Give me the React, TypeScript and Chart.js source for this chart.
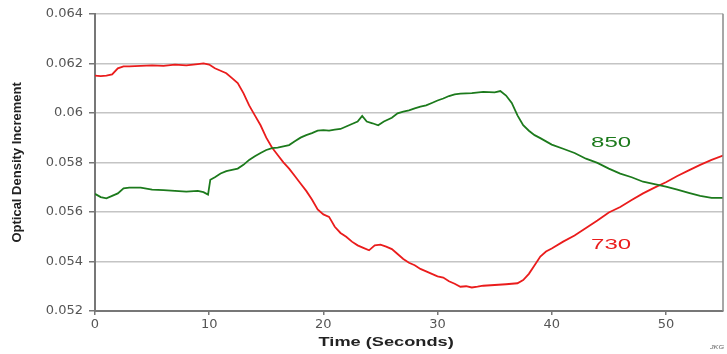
import React, { useEffect, useRef } from "react";
import { Chart, registerables } from "chart.js";

Chart.register(...registerables);

const redTimes = [0, 0.5, 1, 1.5, 2, 2.5, 3, 4, 5, 6, 7, 8, 9, 9.5, 10, 10.5, 11, 11.5, 12, 12.5, 13, 13.5, 14, 14.5, 15, 15.5, 16, 16.5, 17, 17.5, 18, 18.5, 19, 19.5, 20, 20.5, 21, 21.5, 22, 22.5, 23, 23.5, 24, 24.5, 25, 25.5, 26, 26.5, 27, 27.5, 28, 28.5, 29, 29.5, 30, 30.5, 31, 31.5, 32, 32.5, 33, 33.5, 34, 35, 36, 37, 37.5, 38, 38.5, 39, 39.5, 40, 41, 42, 43, 44, 45, 46, 47, 48, 49, 50, 51, 52, 53, 54, 55];
const red730 = [0.0615, 0.06148, 0.0615, 0.06155, 0.0618, 0.06188, 0.06188, 0.0619, 0.06192, 0.0619, 0.06195, 0.06192, 0.06197, 0.062, 0.06195, 0.0618, 0.0617, 0.0616, 0.0614, 0.0612, 0.0608, 0.0603, 0.0599, 0.0595, 0.059, 0.0586, 0.0583, 0.058, 0.05775, 0.05745, 0.05715, 0.05685, 0.0565, 0.0561, 0.0559, 0.0558, 0.0554, 0.05515, 0.055, 0.0548, 0.05465, 0.05455, 0.05445, 0.05465, 0.05468, 0.0546, 0.0545, 0.0543, 0.0541, 0.05395, 0.05385, 0.0537, 0.0536, 0.0535, 0.0534, 0.05335, 0.0532, 0.0531, 0.05298, 0.053, 0.05295, 0.05298, 0.05302, 0.05305, 0.05308, 0.05312, 0.05325, 0.0535, 0.05385, 0.0542, 0.0544, 0.05452, 0.0548, 0.05505, 0.05535, 0.05565, 0.05598, 0.0562, 0.05648, 0.05675, 0.05698, 0.0572, 0.05745, 0.05768, 0.0579, 0.0581, 0.05828];

const greenTimes = [0, 0.5, 1, 1.5, 2, 2.5, 3, 4, 5, 6, 7, 8, 9, 9.5, 9.9, 10.1, 10.5, 11, 11.5, 12, 12.5, 13, 13.5, 14, 14.5, 15, 15.5, 16, 16.5, 17, 17.5, 18, 18.5, 19, 19.5, 20, 20.5, 21, 21.5, 22, 22.5, 23, 23.4, 23.8, 24.3, 24.8, 25.3, 26, 26.5, 27, 27.5, 28, 28.5, 29, 29.5, 30, 30.5, 31, 31.5, 32, 33, 34, 35, 35.5, 36, 36.5, 37, 37.5, 38, 38.5, 39, 40, 41, 42, 43, 44, 45, 46, 47, 48, 49, 50, 51, 52, 53, 54, 55];
const green850 = [0.05673, 0.0566, 0.05655, 0.05665, 0.05675, 0.05695, 0.05698, 0.05698, 0.0569, 0.05688, 0.05685, 0.05682, 0.05685, 0.0568, 0.0567, 0.0573, 0.0574, 0.05755, 0.05765, 0.0577, 0.05775, 0.0579, 0.0581, 0.05825, 0.05838, 0.0585, 0.05858, 0.0586, 0.05865, 0.0587, 0.05885, 0.059, 0.0591, 0.05918, 0.05928, 0.0593, 0.05928, 0.05932, 0.05935, 0.05945, 0.05955, 0.05965, 0.05988, 0.05965, 0.05958, 0.0595, 0.05965, 0.0598, 0.05998, 0.06005, 0.0601, 0.06018, 0.06025, 0.0603, 0.0604, 0.0605, 0.06058, 0.06068, 0.06075, 0.06078, 0.0608, 0.06085, 0.06083, 0.06088, 0.0607, 0.0604, 0.0599, 0.0595, 0.05928, 0.0591, 0.05898, 0.05872, 0.05855, 0.05838, 0.05815, 0.05798, 0.05775, 0.05755, 0.0574, 0.05722, 0.05712, 0.05702, 0.0569, 0.05677, 0.05665, 0.05657, 0.05657];

const yTicks = [0.052, 0.054, 0.056, 0.058, 0.06, 0.062, 0.064];
const xTicks = [0, 10, 20, 30, 40, 50];
const seriesLabels = ["850", "730"];
const labelAnchors = [
  { t: 45.2, v: 0.0588 },
  { t: 45.2, v: 0.05467 },
];
const xTitle = "Time (Seconds)";
const yTitle = "Optical Density Increment";
const credit = "JKG";

const RED = "#ea1c1c";
const GREEN = "#1c7a1c";
const SANS = "'Liberation Sans', Arial, sans-serif";

export default function App() {
  const ref = useRef<HTMLCanvasElement | null>(null);

  useEffect(() => {
    document.body.style.margin = "0";
    const canvas = ref.current;
    if (!canvas) return;

    const stretchText = (ctx: any, txt: string, x: number, y: number, sx: number) => {
      ctx.save();
      ctx.translate(x, y);
      ctx.scale(sx, 1);
      ctx.fillText(txt, 0, 0);
      ctx.restore();
    };

    const labelPlugin = {
      id: "seriesLabels",
      afterDatasetsDraw(chart: any) {
        const { ctx, scales, chartArea } = chart;
        ctx.save();
        ctx.strokeStyle = "#8a8a8a";
        ctx.lineWidth = 1.5;
        ctx.beginPath();
        ctx.moveTo(chartArea.right, chartArea.top);
        ctx.lineTo(chartArea.right, chartArea.bottom);
        ctx.stroke();

        ctx.font = `15px ${SANS}`;
        ctx.textAlign = "center";
        ctx.textBaseline = "middle";
        const colors = [GREEN, RED];
        seriesLabels.forEach((txt, i) => {
          ctx.fillStyle = colors[i];
          stretchText(ctx, txt, scales.x.getPixelForValue(labelAnchors[i].t), scales.y.getPixelForValue(labelAnchors[i].v), 1.6);
        });

        ctx.font = `bold 13px ${SANS}`;
        ctx.fillStyle = "#222";
        ctx.textAlign = "center";
        ctx.textBaseline = "alphabetic";
        stretchText(ctx, xTitle, scales.x.getPixelForValue(25.5), chart.height - 8, 1.4);

        ctx.font = `italic 6px ${SANS}`;
        ctx.fillStyle = "#666";
        ctx.textAlign = "right";
        ctx.textBaseline = "middle";
        stretchText(ctx, credit, chart.width - 3, chart.height - 7, 1.2);
        ctx.restore();
      },
    };

    const chart = new Chart(canvas, {
      type: "line",
      data: {
        datasets: [
          {
            label: "850",
            data: greenTimes.map((t, i) => ({ x: t, y: green850[i] })),
            borderColor: GREEN,
            borderWidth: 1.8,
            pointRadius: 0,
            tension: 0,
          },
          {
            label: "730",
            data: redTimes.map((t, i) => ({ x: t, y: red730[i] })),
            borderColor: RED,
            borderWidth: 1.8,
            pointRadius: 0,
            tension: 0,
          },
        ],
      },
      options: {
        responsive: false,
        animation: false,
        layout: { padding: { top: 12, right: 4, left: 0, bottom: 0 } },
        plugins: { legend: { display: false }, tooltip: { enabled: false } },
        scales: {
          x: {
            type: "linear",
            min: 0,
            max: 55,
            afterBuildTicks: (s: any) => {
              s.ticks = xTicks.map((v) => ({ value: v }));
            },
            afterFit: (s: any) => {
              s.height = 43;
            },
            ticks: { color: "#555", font: { size: 13, family: "'DejaVu Sans', sans-serif" }, padding: 2, maxRotation: 0 },
            grid: { drawOnChartArea: false, tickLength: 4, tickColor: "#777", lineWidth: 1.5 },
            border: { color: "#777", width: 2 },
            title: { display: false },
          },
          y: {
            min: 0.052,
            max: 0.064,
            afterBuildTicks: (s: any) => {
              s.ticks = yTicks.map((v) => ({ value: v }));
            },
            afterFit: (s: any) => {
              s.width = 95;
            },
            ticks: {
              color: "#555",
              font: { size: 13, family: "'DejaVu Sans', sans-serif" },
              padding: 6,
              callback: (v: any) => String(Number(Number(v).toFixed(3))),
            },
            grid: { color: "#c4c4c4", lineWidth: 1.5, tickLength: 6, tickColor: "#777" },
            border: { color: "#777", width: 2 },
            title: {
              display: true,
              text: yTitle,
              color: "#222",
              font: { size: 13, weight: "bold", family: SANS },
              padding: { top: 10, bottom: 0 },
            },
          },
        },
      },
      plugins: [labelPlugin],
    } as any);

    return () => chart.destroy();
  }, []);

  return (
    <div style={{ width: 727, height: 354 }}>
      <canvas ref={ref} width={727} height={354} />
    </div>
  );
}
